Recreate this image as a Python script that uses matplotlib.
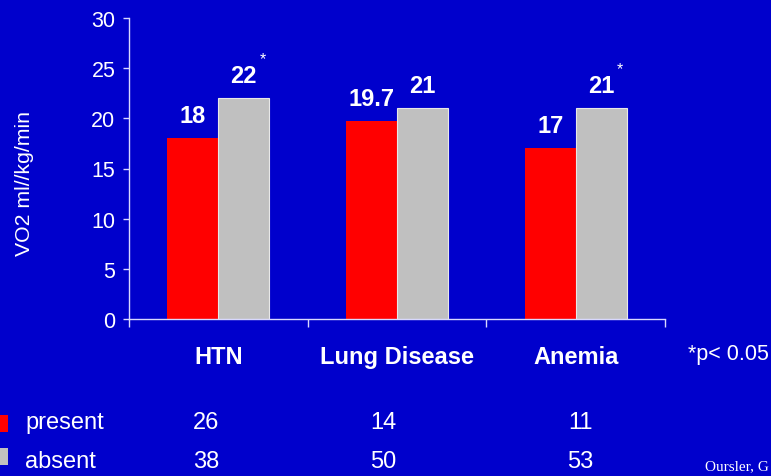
import matplotlib
matplotlib.use("Agg")
import matplotlib.pyplot as plt
from matplotlib.patches import Rectangle
import numpy as np

# Data
categories = ["HTN", "Lung Disease", "Anemia"]
present_vo2 = [18, 19.7, 17]
absent_vo2 = [22, 21, 21]
significant = [True, False, True]
present_n = [26, 14, 11]
absent_n = [38, 50, 53]
series_names = ["present", "absent"]
yticks = [0, 5, 10, 15, 20, 25, 30]

BG = "#0000CC"
RED = "#FF0000"
GRAY = "#C0C0C0"
AXIS = "#D8D8FF"
FONT = "Liberation Sans"

plt.rcParams["font.family"] = [FONT, "DejaVu Sans"]

W, H = 771, 477
fig = plt.figure(figsize=(W / 100, H / 100), dpi=100, facecolor=BG)
ax = fig.add_axes([129 / W, 1 - 320 / H, (665 - 129) / W, (320 - 19) / H])
ax.set_facecolor(BG)

x = np.arange(len(categories))
bw = 0.285
ax.bar(x - bw / 2, present_vo2, bw, color=RED, edgecolor=RED, linewidth=0, zorder=2)
ax.bar(x + bw / 2, absent_vo2, bw, color=GRAY, edgecolor="#E8E8E8", linewidth=0.8, zorder=2)

# Value labels above each bar
for xi, v in zip(x - bw / 2, present_vo2):
    ax.annotate(f"{v:g}", (xi, v), xytext=(0, 11.5), textcoords="offset points",
                ha="center", va="baseline", color="white", fontsize=17, fontweight="bold")
for xi, v, sig in zip(x + bw / 2, absent_vo2, significant):
    ax.annotate(f"{v:g}", (xi, v), xytext=(0, 11.5), textcoords="offset points",
                ha="center", va="baseline", color="white", fontsize=17, fontweight="bold")
    if sig:
        ax.annotate("*", (xi, v), xytext=(13.5, 28.5), textcoords="offset points",
                    ha="center", va="center", color="white", fontsize=11.5)

ax.set_xlim(-0.5, len(categories) - 0.5)
ax.set_ylim(0, 30)
ax.set_yticks(yticks)
ax.tick_params(axis="y", colors=AXIS, labelcolor="white", labelsize=15.5,
               length=4.3, width=1, pad=5.5, direction="out")
ax.set_xticks(x)
ax.set_xticklabels(categories, fontsize=17, fontweight="bold", color="white")
ax.tick_params(axis="x", which="major", length=0, pad=19)
ax.set_xticks(np.arange(-0.5, len(categories)), minor=True)
ax.tick_params(axis="x", which="minor", colors=AXIS, length=6, width=1, direction="out")

for side in ["top", "right"]:
    ax.spines[side].set_visible(False)
for side in ["left", "bottom"]:
    ax.spines[side].set_color(AXIS)
    ax.spines[side].set_linewidth(1)

fig.text(24 / W, 1 - 183 / H, "VO2 ml//kg/min", rotation=90, ha="center", va="center",
         color="white", fontsize=15.3)

fig.text(688 / W, 1 - 355 / H, "*p< 0.05", ha="left", va="center", color="white", fontsize=15.5)

# Sample-size table under the chart
row_y = [423, 462]
swatch = [(416, 433), (449, 466)]
colors = [RED, GRAY]
counts = [present_n, absent_n]
col_x = [206, 383, 580]
for name, ry, (y0, y1), c, vals in zip(series_names, row_y, swatch, colors, counts):
    fig.patches.append(Rectangle((0, 1 - y1 / H), 8 / W, (y1 - y0) / H,
                                 transform=fig.transFigure, facecolor=c, edgecolor="none"))
    fig.text(25 / W, 1 - ry / H, name, ha="left", va="center", color="white", fontsize=17)
    for cx, n in zip(col_x, vals):
        fig.text(cx / W, 1 - ry / H, str(n), ha="center", va="center", color="white", fontsize=17)

fig.text(705 / W, 1 - 470 / H, "Oursler, G", ha="left", va="baseline", color="white",
         fontsize=11, family=["Liberation Serif", "DejaVu Serif"])

fig.savefig("out.png", dpi=100, facecolor=BG)
